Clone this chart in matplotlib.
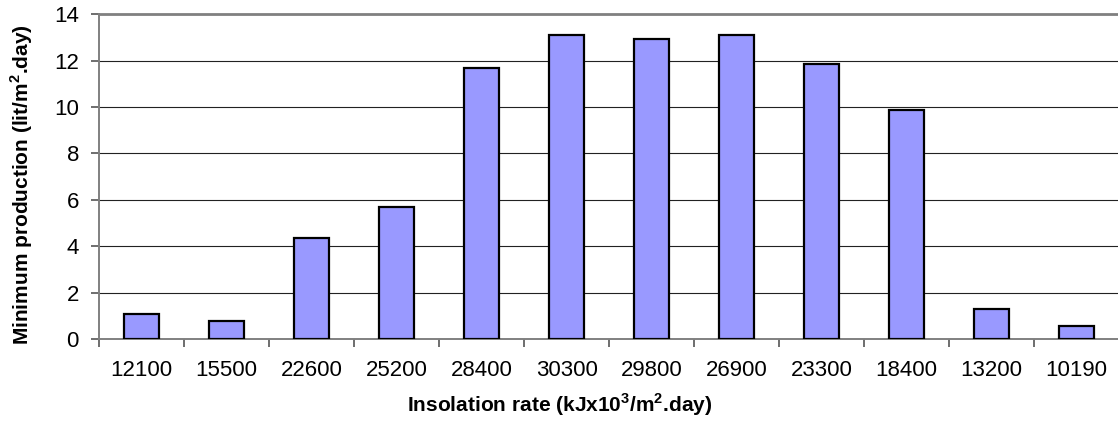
import matplotlib
matplotlib.use('Agg')
import matplotlib.pyplot as plt
import numpy as np

plt.rcParams['font.family'] = ['Liberation Sans', 'DejaVu Sans']
plt.rcParams['mathtext.fontset'] = 'custom'
plt.rcParams['mathtext.rm'] = 'Liberation Sans'
plt.rcParams['mathtext.bf'] = 'Liberation Sans:bold'

# insolation per month and the minimum still output
insolation = ['12100', '15500', '22600', '25200', '28400', '30300',
              '29800', '26900', '23300', '18400', '13200', '10190']
production = [1.07, 0.78, 4.37, 5.70, 11.68, 13.12,
              12.94, 13.12, 11.84, 9.86, 1.28, 0.56]
y_ticks = [0, 2, 4, 6, 8, 10, 12, 14]

fig = plt.figure(figsize=(11.18, 4.21), dpi=100)
ax = fig.add_axes([0.0886, 0.1948, 0.9125, 0.7712])

x = np.arange(len(insolation))
ax.bar(x, production, width=0.41, color='#9999FF', edgecolor='black',
       linewidth=1.6, zorder=3)

ax.set_xlim(-0.5, len(insolation) - 0.5)
ax.set_ylim(0, 14)
ax.set_yticks(y_ticks)
ax.yaxis.grid(True, color='#222222', linewidth=0.8, zorder=0)

ax.set_xticks(x)
ax.set_xticklabels(insolation)
ax.set_xticks(np.arange(len(insolation) + 1) - 0.5, minor=True)
ax.tick_params(axis='x', which='major', length=0, pad=15, labelsize=16)
ax.tick_params(axis='x', which='minor', length=5.5, width=1.2,
               color='#555555', direction='out')
ax.tick_params(axis='y', length=5.5, width=1.2, color='#555555',
               direction='out', pad=9, labelsize=16)

for side in ['left', 'bottom', 'top']:
    ax.spines[side].set_color('#808080')
ax.spines['left'].set_linewidth(1.4)
ax.spines['bottom'].set_linewidth(1.4)
ax.spines['top'].set_linewidth(2.0)
ax.spines['right'].set_visible(False)

ax.set_ylabel(r'Minimum production (lit/m$^{\mathbf{2}}$.day)', fontsize=15,
              fontweight='bold', va='center')
ax.yaxis.set_label_coords(-0.0755, 0.474)
ax.set_xlabel(r'Insolation rate (kJx10$^{\mathbf{3}}$/m$^{\mathbf{2}}$.day)',
              fontsize=15, fontweight='bold', va='center')
ax.xaxis.set_label_coords(0.452, -0.203)

fig.savefig('out.png', dpi=100)
